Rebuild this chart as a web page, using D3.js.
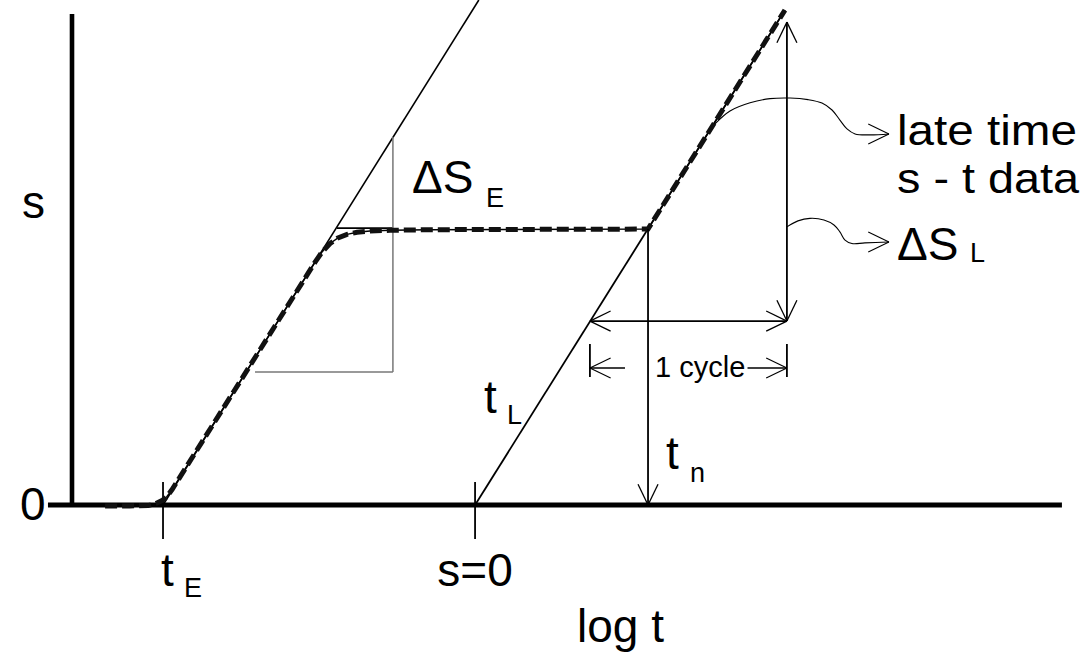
<!DOCTYPE html>
<html>
<head>
<meta charset="utf-8">
<script src="https://cdn.jsdelivr.net/npm/d3@7"></script>
<style>
  html, body { margin: 0; padding: 0; background: #fff; }
  svg { display: block; }
  text { font-family: "Liberation Sans", Arial, Helvetica, sans-serif; fill: #000; }
</style>
</head>
<body>
<svg id="chart" width="1091" height="659"></svg>
<script>
// ---- values: u = log t (cycles from the s-axis), s = drawdown ----
const axisLogT = [-0.122, 5.025];
const axisS = [0, 1.559];
const tickLogT = [0.462, 2.046];           // t_E and the s = 0 intercept
const tickLabels = ["t", "s=0"];
const tickSubs = ["E", ""];

const earlyLine = [[0.462, 0], [2.065, 1.603]];
const lateLine = [[2.046, 0], [3.619, 1.571]];

const dataCurveLogT = [0.168, 0.294, 0.386, 0.426, 0.457, 0.482, 0.508, 1.234, 1.269, 1.310, 1.350,
                       1.396, 1.447, 1.513, 1.614, 1.817, 2.924, 3.619];
const dataCurveS    = [-0.003, -0.003, -0.002, 0.005, 0.014, 0.027, 0.049, 0.771, 0.803, 0.830, 0.848,
                       0.859, 0.866, 0.870, 0.872, 0.874, 0.876, 1.571];

const plateauS = 0.879;
const plateauLogT = [1.345, 1.629];
const deltaSE = { u: 1.629, sLow: 0.422, sHigh: 1.168, uLeft: 0.929 };

const tn = { u: 2.924, s: 0.876 };
const cycle = { uLeft: 2.629, uRight: 3.629, s: 0.584 };
const deltaSL = { u: 3.629, sLow: 0.584, sHigh: 1.533 };
const dim = { sLine: 0.435, sTop: 0.511, sBottom: 0.406, uInnerLeft: 2.807, uInnerRight: 3.429 };

const calloutLateLogT = [3.264, 3.340, 3.442, 3.543, 3.645, 3.736, 3.807, 3.858, 3.898, 3.934, 3.975, 4.051, 4.147];
const calloutLateS    = [1.210, 1.251, 1.277, 1.290, 1.292, 1.287, 1.276, 1.254, 1.222, 1.194, 1.178, 1.175, 1.178];
const calloutDSLLogT  = [3.629, 3.685, 3.746, 3.817, 3.868, 3.898, 3.924, 3.959, 4.025, 4.147];
const calloutDSLS     = [0.883, 0.902, 0.910, 0.905, 0.889, 0.867, 0.841, 0.830, 0.832, 0.835];

const lateLabelLines = ["late time", "s - t data"];

// ---- scales ----
const x = d3.scaleLinear().domain([0, 1]).range([72, 269]);
const y = d3.scaleLinear().domain([0, 1]).range([505, 190]);

const svg = d3.select("#chart");
const line = d3.line().x(d => x(d[0])).y(d => y(d[1]));

function seg(g, u1, s1, u2, s2, w, color) {
  return g.append("line")
    .attr("x1", x(u1)).attr("y1", y(s1))
    .attr("x2", x(u2)).attr("y2", y(s2))
    .attr("stroke", color || "#000").attr("stroke-width", w || 1.6);
}

// open V arrowhead at (u,s) pointing in direction angle (radians, screen coords)
function arrowHead(g, u, s, angle, w) {
  const L = 23, half = 0.45;
  const px = x(u), py = y(s);
  [-half, half].forEach(a => {
    g.append("line")
      .attr("x1", px).attr("y1", py)
      .attr("x2", px - L * Math.cos(angle + a)).attr("y2", py - L * Math.sin(angle + a))
      .attr("stroke", "#000").attr("stroke-width", w || 1.3);
  });
}

const g = svg.append("g");

// ---- axes ----
seg(g, 0, axisS[0] - 0.006, 0, axisS[1], 4.6);
seg(g, axisLogT[0], 0, axisLogT[1], 0, 5);

tickLogT.forEach(u => seg(g, u, 0.073, u, -0.108, 1.8));

// ---- straight-line fits ----
seg(g, earlyLine[0][0], earlyLine[0][1], earlyLine[1][0], earlyLine[1][1], 1.6);
seg(g, lateLine[0][0], lateLine[0][1], lateLine[1][0], lateLine[1][1], 1.8);

// ΔS_E construction
seg(g, plateauLogT[0], plateauS, plateauLogT[1], plateauS, 1.8);
seg(g, deltaSE.u, deltaSE.sLow, deltaSE.u, deltaSE.sHigh, 1.5, "#777");
seg(g, deltaSE.uLeft, deltaSE.sLow, deltaSE.u, deltaSE.sLow, 1.5, "#777");

// ---- measured s - t data (dashed) ----
const curvePts = dataCurveLogT.map((u, i) => [u, dataCurveS[i]]);
g.append("path").datum(curvePts.slice(3))
  .attr("d", line).attr("fill", "none")
  .attr("stroke", "#000").attr("stroke-width", 1.4);
g.append("path").datum(curvePts)
  .attr("d", line).attr("fill", "none")
  .attr("stroke", "#111").attr("stroke-width", 5)
  .attr("stroke-dasharray", "12,5");

// ---- t_n drop line ----
seg(g, tn.u, tn.s, tn.u, 0, 1.8);
arrowHead(g, tn.u, 0, Math.PI / 2);

// ---- one log cycle and ΔS_L ----
seg(g, cycle.uLeft, cycle.s, cycle.uRight, cycle.s, 1.8);
arrowHead(g, cycle.uLeft, cycle.s, Math.PI);
arrowHead(g, cycle.uRight, cycle.s, 0);
seg(g, deltaSL.u, deltaSL.sLow, deltaSL.u, deltaSL.sHigh, 1.8);
arrowHead(g, deltaSL.u, deltaSL.sHigh, -Math.PI / 2);
arrowHead(g, deltaSL.u, deltaSL.sLow, Math.PI / 2);

// dimension "1 cycle"
seg(g, cycle.uLeft, dim.sTop, cycle.uLeft, dim.sBottom, 1.8);
seg(g, cycle.uRight, dim.sTop, cycle.uRight, dim.sBottom, 1.8);
seg(g, dim.uInnerLeft, dim.sLine, cycle.uLeft, dim.sLine, 1.6);
arrowHead(g, cycle.uLeft, dim.sLine, Math.PI, 1.2);
seg(g, dim.uInnerRight, dim.sLine, cycle.uRight, dim.sLine, 1.6);
arrowHead(g, cycle.uRight, dim.sLine, 0, 1.2);

// ---- callouts ----
const curvy = d3.line().curve(d3.curveCatmullRom.alpha(0.5)).x(d => x(d[0])).y(d => y(d[1]));
[[calloutLateLogT, calloutLateS], [calloutDSLLogT, calloutDSLS]].forEach(([us, ss]) => {
  const pts = us.map((u, i) => [u, ss[i]]);
  g.append("path").datum(pts).attr("d", curvy)
    .attr("fill", "none").attr("stroke", "#000").attr("stroke-width", 1.1);
  const last = pts[pts.length - 1];
  arrowHead(g, last[0], last[1], 0, 1.1);
});

// ---- text ----
function label(px, py, txt, size, anchor) {
  return svg.append("text").attr("x", px).attr("y", py)
    .attr("font-size", size).attr("text-anchor", anchor || "start").text(txt);
}
const big = 46, sub = 27;

label(22, 218, "s", big);
label(20, 520, "0", big);

// tick labels
label(x(tickLogT[0]) - 2, 586, tickLabels[0], big);
label(x(tickLogT[0]) + 21, 597, tickSubs[0], sub);
label(x(tickLogT[1]), 586, tickLabels[1], big, "middle");

label(577, 642, "log t", big);

label(412, 193, "\u0394S", big);
label(486, 207, "E", sub);

label(484, 413, "t", big);
label(507, 424, "L", sub);

label(666, 469, "t", big);
label(690, 482, "n", sub);

label(655, 377, "1 cycle", 29);

// two-line callout label, widened to the drawing's lettering
const lateWidths = [180, 182];
lateLabelLines.forEach((t, i) => {
  label(897, 145 + i * 48, t, 42)
    .attr("textLength", lateWidths[i])
    .attr("lengthAdjust", "spacingAndGlyphs");
});

label(897, 260, "\u0394S", big);
label(970, 262, "L", sub);
</script>
</body>
</html>
